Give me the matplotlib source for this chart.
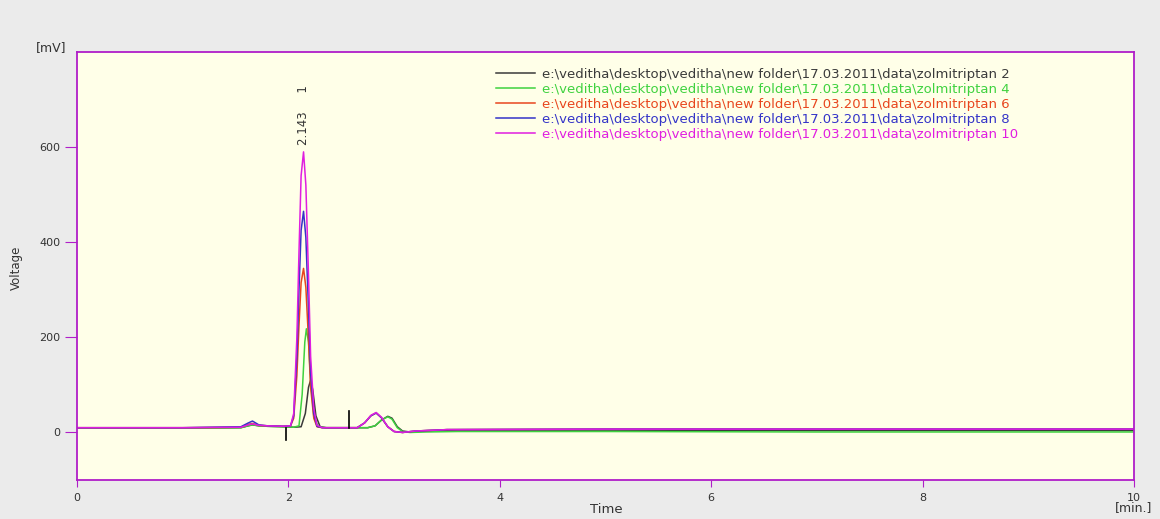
import matplotlib
matplotlib.use("Agg")
import matplotlib.pyplot as plt

plt.rcParams['font.family'] = ['DejaVu Sans']

# chromatogram traces: retention time [min] and signal [mV]
path = "e:\\veditha\\desktop\\veditha\\new folder\\17.03.2011\\data\\zolmitriptan "
labels = [path + "2", path + "4", path + "6", path + "8", path + "10"]
colors = ["#3a3a3a", "#3fd23f", "#e8461e", "#3434c8", "#e01ee0"]

t_black = [0, 1.0, 1.55, 1.62, 1.66, 1.72, 1.8, 1.95, 2.05, 2.12, 2.16, 2.19, 2.21, 2.23, 2.26, 2.3, 2.36, 2.5,
           2.75, 2.82, 2.88, 2.94, 2.98, 3.03, 3.08, 3.15, 3.3, 3.6, 5.0, 7.0, 10.0]
v_black = [9, 9, 10, 14, 16, 14, 13, 12, 11, 12, 40, 95, 110, 90, 35, 12, 10, 10,
           10, 14, 26, 34, 30, 12, 3, 1, 3, 5, 5, 4, 4]

t_green = [0, 1.0, 1.55, 1.62, 1.66, 1.72, 1.8, 1.95, 2.05, 2.1, 2.13, 2.155, 2.17, 2.19, 2.21, 2.24, 2.28, 2.35, 2.5,
           2.75, 2.82, 2.88, 2.94, 2.98, 3.03, 3.08, 3.15, 3.3, 3.6, 5.0, 7.0, 10.0]
v_green = [9, 9, 10, 14, 16, 14, 13, 12, 11, 14, 80, 190, 218, 190, 110, 35, 12, 10, 10,
           10, 14, 26, 33, 28, 10, 2, 0, 1, 2, 2, 1, 1]

t_red = [0, 1.0, 1.55, 1.62, 1.66, 1.72, 1.8, 1.95, 2.02, 2.05, 2.08, 2.1, 2.12, 2.143, 2.165, 2.19, 2.21, 2.24,
         2.27, 2.32, 2.5, 2.65, 2.72, 2.78, 2.83, 2.88, 2.94, 3.0, 3.08, 3.2, 3.5, 5.0, 7.0, 10.0]
v_red = [10, 10, 11, 17, 19, 15, 14, 13, 14, 30, 120, 225, 315, 345, 305, 195, 95, 30,
         12, 10, 10, 10, 20, 35, 41, 31, 12, 2, 0, 3, 6, 7, 7, 7]

t_blue = [0, 1.0, 1.55, 1.62, 1.66, 1.72, 1.8, 1.95, 2.02, 2.05, 2.08, 2.1, 2.12, 2.143, 2.165, 2.19, 2.21, 2.24,
          2.27, 2.32, 2.5, 2.65, 2.72, 2.78, 2.83, 2.88, 2.94, 3.0, 3.08, 3.2, 3.5, 5.0, 7.0, 10.0]
v_blue = [10, 10, 12, 20, 24, 16, 14, 13, 14, 35, 160, 300, 425, 465, 410, 260, 125, 40,
          13, 10, 10, 10, 20, 35, 41, 31, 12, 2, 0, 3, 6, 7, 7, 7]

t_magenta = [0, 1.0, 1.55, 1.62, 1.66, 1.72, 1.8, 1.95, 2.02, 2.05, 2.08, 2.1, 2.12, 2.143, 2.165, 2.19, 2.21, 2.24,
             2.27, 2.32, 2.5, 2.65, 2.72, 2.78, 2.83, 2.88, 2.94, 3.0, 3.08, 3.2, 3.5, 5.0, 7.0, 10.0]
v_magenta = [10, 10, 11, 16, 18, 15, 14, 13, 14, 40, 200, 380, 540, 590, 520, 330, 160, 50,
             15, 10, 10, 10, 20, 36, 42, 32, 12, 2, 0, 3, 6, 7, 7, 7]

series = [(t_black, v_black), (t_green, v_green), (t_red, v_red), (t_blue, v_blue), (t_magenta, v_magenta)]

# integration markers (time, start, end) and peak label
marks = [(1.98, 10, -15), (2.57, 10, 45)]
peak_time = 2.143
peak_value = 590
peak_text = "2.143     1"

fig = plt.figure(figsize=(11.6, 5.19), dpi=100, facecolor="#ebebeb")
ax = fig.add_axes([0.0664, 0.0751, 0.9112, 0.8247])
ax.set_facecolor("#ffffe8")

for (t, v), c, lab in zip(series, colors, labels):
    ax.plot(t, v, color=c, lw=1.1, label=lab)

for t, a, b in marks:
    ax.plot([t, t], [a, b], color="black", lw=1.2)

ax.annotate(peak_text, (peak_time, peak_value), xytext=(0, 5), textcoords="offset points",
            rotation=90, ha="center", va="bottom", fontsize=8.5, color="#333333")

ax.set_xlim(0, 10)
ax.set_ylim(-100, 800)
ax.set_xticks([0, 2, 4, 6, 8, 10])
ax.set_yticks([0, 200, 400, 600])

spine_col = "#b01ec8"
for s in ax.spines.values():
    s.set_color(spine_col)
    s.set_linewidth(1.3)

ax.tick_params(axis="y", direction="out", length=9, color=spine_col, labelsize=8,
               labelcolor="#333333", pad=3)
ax.tick_params(axis="x", direction="out", length=5, color=spine_col, labelsize=8,
               labelcolor="#333333", pad=4)

leg = ax.legend(loc="upper left", bbox_to_anchor=(0.391, 0.975), frameon=False, fontsize=9.5,
                handlelength=3.0, handletextpad=0.5, labelspacing=0.15, borderaxespad=0)
for txt, c in zip(leg.get_texts(), colors):
    txt.set_color(c)

fig.text(0.057, 0.909, "[mV]", ha="right", va="center", fontsize=9, color="#333333")
fig.text(0.977, 0.022, "[min.]", ha="center", va="center", fontsize=9, color="#333333")
fig.text(0.014, 0.484, "Voltage", ha="center", va="center", rotation=90, fontsize=8.5, color="#333333")
fig.text(0.523, 0.018, "Time", ha="center", va="center", fontsize=9.5, color="#333333")

fig.savefig("out.png", dpi=100, facecolor=fig.get_facecolor())
